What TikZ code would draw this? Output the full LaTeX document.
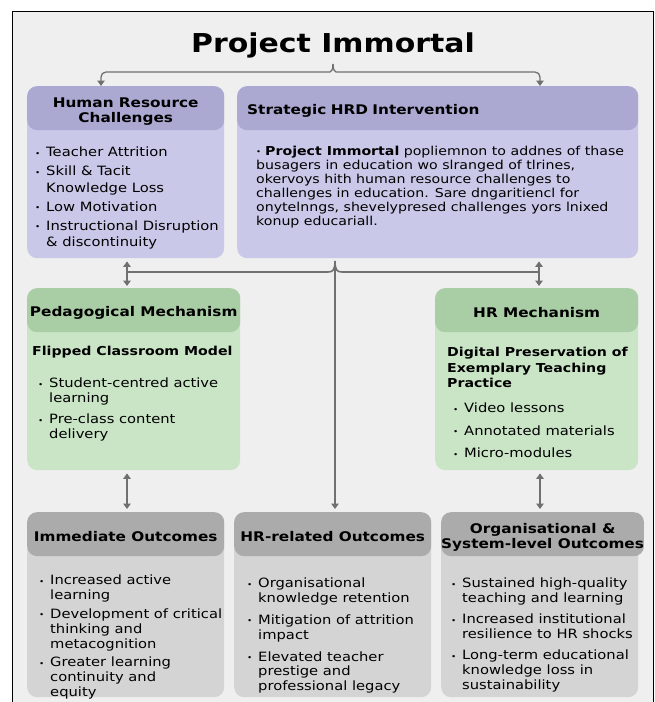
\documentclass[tikz,border=0pt]{standalone}
\usepackage{fontspec}
\setmainfont{DejaVu Sans}[FakeStretch=1.15]
\usepackage{graphicx}
\usetikzlibrary{arrows.meta,positioning,calc}
\definecolor{imbg}{RGB}{239,239,239}
\definecolor{impurplehd}{RGB}{171,169,210}
\definecolor{impurple}{RGB}{201,200,232}
\definecolor{imgreenhd}{RGB}{169,205,164}
\definecolor{imgreen}{RGB}{201,229,198}
\definecolor{imgreyhd}{RGB}{171,171,171}
\definecolor{imgrey}{RGB}{212,212,212}
\definecolor{imline}{RGB}{112,112,112}
\newcommand{\bul}{\makebox[11pt][l]{\raisebox{0.1ex}{\scalebox{0.6}{\textbullet}}}}
\newcommand{\ind}{\hspace*{11pt}}

\begin{document}
\begin{tikzpicture}[x=1pt, y=-1pt,
    box/.style={rounded corners=10pt, anchor=north west, inner sep=0pt},
    head/.style={rounded corners=10pt, anchor=north west, inner sep=0pt,
                 minimum height=44pt, align=center, text height=14.5pt,
                 font=\fontsize{13.3}{15.5}\selectfont\bfseries},
    head2/.style={head, text height=32pt},
    txt/.style={anchor=north west, inner sep=0pt, align=left,
                font=\fontsize{12.8}{15.5}\selectfont},
    sub/.style={anchor=north west, inner sep=0pt, align=left,
                font=\fontsize{12.3}{15.5}\selectfont\bfseries},
    conn/.style={draw=imline, line width=1.6pt},
    arr/.style={conn, -{Triangle[width=7.5pt,length=5.5pt]}},
    darr/.style={conn, {Triangle[width=7.5pt,length=5.5pt]}-{Triangle[width=7.5pt,length=5.5pt]}},
  ]
  \useasboundingbox (0,0) rectangle (655,702);
  \draw[black, line width=0.8pt, fill=imbg] (12,11) rectangle (653,706);

  % --- Title ---
  \node[font=\fontsize{26}{30}\selectfont\bfseries] (title) at (333,45) {Project Immortal};

  % --- Top row: challenges and intervention ---
  \node[box, fill=impurple, minimum width=197pt, minimum height=172pt] (hrc) at (27,86) {};
  \node[head2, fill=impurplehd, minimum width=197pt] (hrch) at (hrc.north west)
    {Human Resource\\Challenges};
  \node[txt, font=\fontsize{12.8}{16.5}\selectfont] (hrct) at (35,147)
    {\bul Teacher Attrition\\[2.5pt]
     \bul Skill \& Tacit\\ \ind Knowledge Loss\\[2.5pt]
     \bul Low Motivation\\[2.5pt]
     \bul Instructional Disruption\\ \ind \& discontinuity};

  \node[box, fill=impurple, minimum width=401pt, minimum height=172pt] (shrd) at (237,86) {};
  \node[head, fill=impurplehd, minimum width=401pt, text width=381pt,
        align=left, inner xsep=10pt] (shrdh) at (shrd.north west)
    {Strategic HRD Intervention};
  \node[txt, font=\fontsize{12.3}{14}\selectfont] (shrdt) at (256,146)
    {\makebox[9pt][l]{\raisebox{0.1ex}{\scalebox{0.6}{\textbullet}}}\textbf{Project Immortal} popliemnon to addnes of thase\\
     busagers in education wo slranged of tlrines,\\
     okervoys hith human resource challenges to\\
     challenges in education. Sare dngaritiencl for\\
     onytelnngs, shevelypresed challenges yors lnixed\\
     konup educariall.};

  % --- Middle row: mechanisms ---
  \node[box, fill=imgreen, minimum width=213pt, minimum height=182pt] (pedm) at (27,288) {};
  \node[head, fill=imgreenhd, minimum width=213pt] (pedmh) at (pedm.north west)
    {Pedagogical Mechanism};
  \node[sub] (pedms) at (32,346) {Flipped Classroom Model};
  \node[txt, font=\fontsize{12.8}{15}\selectfont] (pedmt) at (38,378)
    {\bul Student-centred active\\ \ind learning\\[6pt]
     \bul Pre-class content\\ \ind delivery};

  \node[box, fill=imgreen, minimum width=203pt, minimum height=182pt] (hrm) at (435,288) {};
  \node[head, fill=imgreenhd, minimum width=203pt] (hrmh) at (hrm.north west)
    {HR Mechanism};
  \node[sub] (hrms) at (447,347)
    {Digital Preservation of\\ Exemplary Teaching\\ Practice};
  \node[txt, font=\fontsize{12.8}{22.5}\selectfont] (hrmt) at (453,403)
    {\bul Video lessons\\ \bul Annotated materials\\ \bul Micro-modules};

  % --- Bottom row: outcomes ---
  \node[box, fill=imgrey, minimum width=197pt, minimum height=185pt] (imo) at (27,512) {};
  \node[head, fill=imgreyhd, minimum width=197pt] (imoh) at (imo.north west)
    {Immediate Outcomes};
  \node[txt, font=\fontsize{12.8}{14.8}\selectfont] (imot) at (39,575)
    {\bul Increased active\\ \ind learning\\[4pt]
     \bul Development of critical\\ \ind thinking and\\ \ind metacognition\\[4pt]
     \bul Greater learning\\ \ind continuity and\\ \ind equity};

  \node[box, fill=imgrey, minimum width=197pt, minimum height=185pt] (hro) at (234,512) {};
  \node[head, fill=imgreyhd, minimum width=197pt] (hroh) at (hro.north west)
    {HR-related Outcomes};
  \node[txt, font=\fontsize{12.8}{14.8}\selectfont] (hrot) at (247,578)
    {\bul Organisational\\ \ind knowledge retention\\[7pt]
     \bul Mitigation of attrition\\ \ind impact\\[7pt]
     \bul Elevated teacher\\ \ind prestige and\\ \ind professional legacy};

  \node[box, fill=imgrey, minimum width=197pt, minimum height=185pt] (oso) at (441,512) {};
  \node[head2, fill=imgreyhd, minimum width=197pt] (osoh) at (oso.north west)
    {Organisational \&\\System-level Outcomes};
  \node[txt, font=\fontsize{12.8}{15}\selectfont] (osot) at (451,578)
    {\bul Sustained high-quality\\ \ind teaching and learning\\[6pt]
     \bul Increased institutional\\ \ind resilience to HR shocks\\[6pt]
     \bul Long-term educational\\ \ind knowledge loss in\\ \ind sustainability};

  % --- Connectors ---
  \coordinate (tn) at (333,64);
  \coordinate (tl) at (101,72);
  \coordinate (tr) at (540,72);
  \draw[arr, line width=1.3pt, rounded corners=5pt] (tn) .. controls (333,70) and (331,72) .. (325,72)
    -- (tl) -- (tl |- hrch.north);
  \draw[arr, line width=1.3pt, rounded corners=5pt] (tn) .. controls (333,70) and (335,72) .. (341,72)
    -- (tr) -- (tr |- shrdh.north);

  \coordinate (ml) at (127,272);
  \coordinate (mr) at (539,272);
  \coordinate (mn) at (335,261);
  \draw[darr, shorten <=3pt, shorten >=2pt] (ml |- hrc.south) -- (ml |- pedmh.north);
  \draw[darr, shorten <=3pt, shorten >=2pt] (mr |- shrd.south) -- (mr |- hrmh.north);
  \draw[conn] (ml) -- (328,272) .. controls (333,272) and (335,270) .. (mn);
  \draw[conn] (mr) -- (342,272) .. controls (337,272) and (335,270) .. (mn);
  \draw[arr, shorten >=3pt] (335,268) -- (mn |- hroh.north);

  \coordinate (bl) at (127,490);
  \coordinate (br) at (540,490);
  \draw[darr, shorten <=3pt, shorten >=3pt] (bl |- pedm.south) -- (bl |- imoh.north);
  \draw[darr, shorten <=3pt, shorten >=3pt] (br |- hrm.south) -- (br |- osoh.north);
\end{tikzpicture}
\end{document}
